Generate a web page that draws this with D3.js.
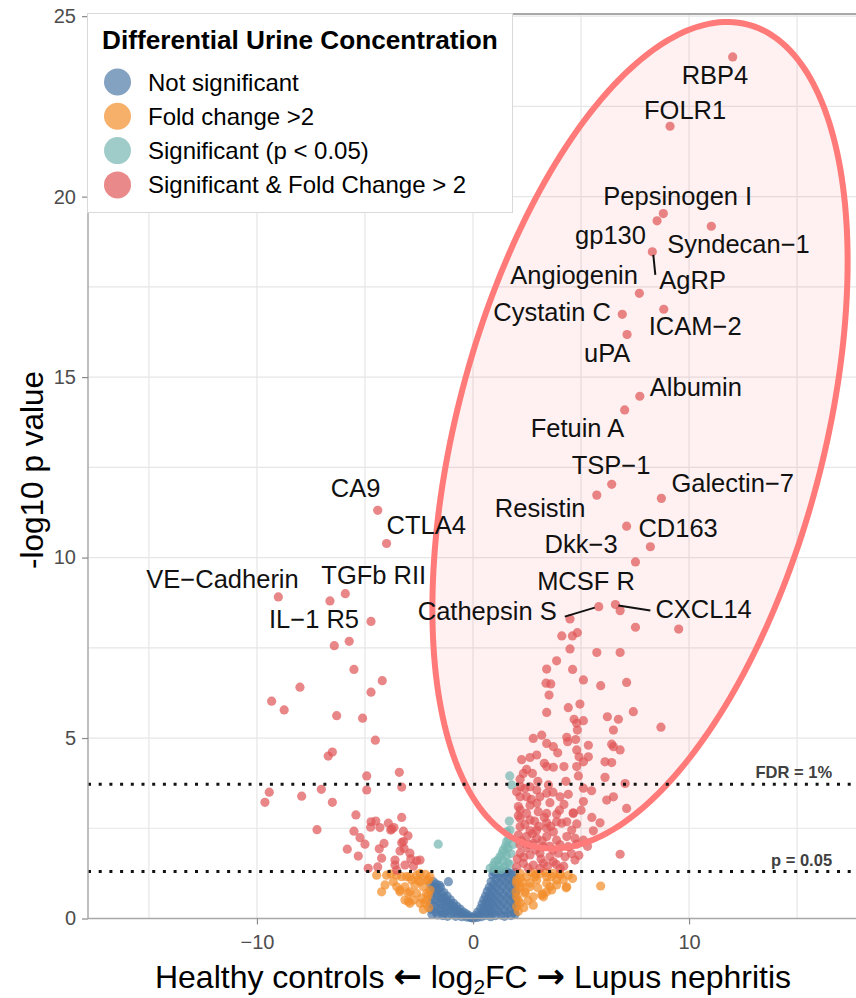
<!DOCTYPE html>
<html>
<head>
<meta charset="utf-8">
<script src="https://cdn.jsdelivr.net/npm/d3@7"></script>
<style>
  body { margin: 0; background: #fff; }
  svg { display: block; font-family: "Liberation Sans", Arial, Helvetica, sans-serif; }
</style>
</head>
<body>
<svg id="chart" width="856" height="998"></svg>
<script>
// ---- data: [log2FC, -log10 p] ----
const notSignificant = [
  [-1.95,0.95],[-1.84,1.02],[-1.14,1.02],[-1.90,0.78],[-1.92,0.60],[-1.95,0.42],[-1.93,0.25],[-1.90,0.12],
  [-1.80,0.88],[-1.78,0.70],[-1.75,0.52],[-1.80,0.35],[-1.72,0.18],[-1.65,0.80],[-1.62,0.62],[-1.60,0.44],
  [-1.58,0.28],[-1.63,0.10],[-1.50,0.86],[-1.48,0.70],[-1.46,0.55],[-1.44,0.38],[-1.48,0.20],[-1.40,0.08],
  [-1.35,0.72],[-1.33,0.58],[-1.30,0.45],[-1.28,0.30],[-1.32,0.15],[-1.20,0.62],[-1.18,0.48],[-1.15,0.35],
  [-1.12,0.22],[-1.18,0.06],[-1.05,0.52],[-1.02,0.40],[-1.00,0.26],[-0.98,0.12],[-0.90,0.42],[-0.88,0.30],
  [-0.85,0.18],[-0.80,0.06],[-0.75,0.34],[-0.72,0.22],[-0.68,0.12],[-0.60,0.26],[-0.56,0.15],[-0.52,0.05],
  [-0.45,0.18],[-0.40,0.09],[-0.32,0.13],[-0.28,0.04],[-0.20,0.08],[-0.12,0.03],[-0.05,0.02],[-1.70,0.95],
  [-1.55,0.92],
  [0.05,0.02],[0.12,0.08],[0.20,0.03],[0.22,0.18],[0.30,0.10],[0.35,0.28],[0.38,0.05],[0.42,0.40],
  [0.45,0.18],[0.50,0.52],[0.52,0.30],[0.55,0.08],[0.58,0.62],[0.60,0.42],[0.62,0.20],[0.66,0.75],
  [0.68,0.54],[0.70,0.33],[0.72,0.12],[0.75,0.86],[0.77,0.65],[0.79,0.45],[0.80,0.24],[0.82,0.05],
  [0.84,1.02],[0.86,0.80],[0.88,0.58],[0.90,0.38],[0.92,0.16],[0.92,1.20],[0.96,0.95],[0.98,0.72],
  [1.00,0.50],[1.02,0.28],[1.04,0.08],[1.05,1.25],[1.08,1.08],[1.10,0.86],[1.12,0.64],[1.14,0.42],
  [1.16,0.20],[1.20,1.18],[1.22,0.98],[1.24,0.76],[1.26,0.55],[1.28,0.33],[1.30,0.10],[1.35,1.28],
  [1.36,1.08],[1.38,0.88],[1.40,0.66],[1.42,0.45],[1.44,0.24],[1.46,0.06],[1.50,1.20],[1.52,1.00],
  [1.54,0.78],[1.56,0.57],[1.58,0.36],[1.60,0.15],[1.64,1.27],[1.66,1.10],[1.68,0.90],[1.70,0.68],
  [1.72,0.48],[1.74,0.26],[1.76,0.08],[1.80,1.22],[1.82,1.02],[1.84,0.82],[1.86,0.60],[1.88,0.40],
  [1.90,0.18],[1.93,1.28],[1.95,1.10],[1.96,0.92],[1.97,0.72],[1.98,0.52],[1.97,0.32],[1.95,0.12],
  [1.55,1.30],[1.25,1.30],[0.95,1.30]
];

const foldChangeOnly = [
  [-4.46,1.20],[-4.00,1.20],[-3.53,1.20],[-4.23,0.74],[-4.07,0.93],[-3.38,0.74],[-2.99,0.47],[-2.76,0.51],
  [-3.15,0.88],[-2.84,1.07],[-2.53,1.07],[-2.30,0.88],[-2.14,0.70],[-2.22,0.42],[-2.61,0.70],[-3.07,1.16],
  [-2.45,1.25],[-2.92,0.74],[-2.07,1.07],[-2.92,1.16],[-2.61,1.20],[-2.45,1.02],[-2.14,1.07],[-1.99,1.16],
  [-2.38,0.56],[-2.14,0.51],[-2.69,0.93],[-1.99,0.79],[-2.07,0.65],[-2.45,0.42],[-2.92,0.42],[-3.15,0.51],
  [-3.38,0.79],[-3.69,1.02],[-3.53,0.88],[-2.99,0.70],[-3.30,1.16],[-2.05,0.30],[-2.30,0.25],[-2.20,1.22],
  [-3.80,1.24],
  [4.61,1.11],[5.91,0.90],[4.34,0.88],[2.79,0.37],[3.23,0.68],[2.18,0.42],[3.18,0.65],[4.31,0.85],
  [3.87,1.07],[3.56,0.88],[3.41,1.16],[2.95,1.07],[2.49,1.16],[2.25,0.88],[2.10,0.51],[2.41,0.70],
  [2.64,0.88],[2.02,1.07],[2.18,1.25],[3.10,1.25],[3.72,1.25],[4.03,1.25],[4.41,1.20],[2.79,0.60],
  [3.41,0.74],[2.02,0.33],[1.99,0.74],[3.26,0.60],[3.64,0.79],[3.87,0.93],[4.03,1.20],[2.64,0.98],
  [2.41,0.74],[2.02,0.60],[2.02,0.98],[2.87,1.16],[2.18,1.11],[3.41,0.98],[4.18,1.07],[3.64,1.16],
  [2.30,1.00],[2.55,0.50],[2.10,0.20],[2.70,1.28],[3.00,0.85],[2.35,0.30],[2.90,1.22],[3.35,1.28],
  [2.15,0.85]
];

const significantOnly = [
  [-1.61,2.06],[1.70,3.95],[1.79,3.70],[1.68,2.70],[1.71,2.45],[1.56,2.40],[1.56,2.13],[1.40,1.90],
  [1.25,1.71],[1.02,1.57],[0.79,1.39],[1.65,2.20],[1.50,2.00],[1.62,1.95],[1.35,1.80],[1.55,1.75],
  [1.15,1.62],[1.40,1.60],[0.95,1.48],[1.20,1.45],[1.45,1.42],[1.70,1.50],[1.05,1.36],[1.30,1.36],
  [1.75,1.80],[1.60,1.55],[1.85,2.05]
];

const significantAndFold = [
  // lower in lupus nephritis
  [-6.42,7.56],[-5.73,7.68],[-5.51,6.90],[-4.20,6.59],[-4.72,6.27],[-8.01,6.41],[-9.32,6.02],[-8.74,5.78],
  [-6.31,5.62],[-5.11,5.55],[-4.52,4.94],[-6.70,4.50],[-6.51,4.61],[-4.92,3.95],[-3.41,4.05],[-3.30,3.64],
  [-4.92,3.56],[-9.43,3.50],[-9.63,3.22],[-7.93,3.39],[-7.02,3.58],[-6.51,3.22],[-5.42,2.87],[-7.22,2.46],
  [-5.51,2.42],[-5.23,2.24],[-5.00,2.06],[-5.82,1.92],[-5.31,1.73],[-4.72,2.68],[-4.74,2.53],[-4.50,2.70],
  [-4.31,2.52],[-3.92,2.64],[-3.81,2.45],[-3.66,2.52],[-3.30,2.80],[-3.22,2.42],[-3.01,2.29],[-4.12,2.08],
  [-4.34,1.93],[-3.30,2.10],[-3.38,1.87],[-3.19,1.94],[-2.92,1.81],[-4.23,1.67],[-3.61,1.62],[-3.61,1.48],
  [-2.61,1.60],[-3.15,1.48],[-2.76,1.45],[-4.85,1.39],[-4.41,1.43],[-3.53,1.34],[-2.88,1.65],[-3.76,2.48],
  [-3.22,2.13],[-2.45,1.62],[-6.62,8.80],
  // higher in lupus nephritis
  [4.49,8.30],[4.11,7.83],[4.60,7.83],[4.83,7.92],[4.49,7.47],[3.87,7.14],[4.61,6.90],[3.41,6.91],
  [3.38,6.52],[3.60,6.50],[3.52,6.19],[5.11,6.61],[5.91,6.45],[5.73,7.37],[6.81,7.37],[7.11,6.54],
  [7.52,8.07],[9.52,8.02],[7.52,9.88],
  [4.41,5.84],[4.95,5.94],[3.41,5.71],[6.22,5.59],[6.73,5.52],[7.42,5.73],[4.68,5.52],[5.11,5.48],
  [4.80,5.41],[4.83,5.22],[6.50,5.22],[8.70,5.30],[2.79,4.99],[3.18,5.08],[4.34,5.02],[4.75,4.96],
  [4.38,4.90],[3.41,4.85],[3.72,4.76],[5.34,4.80],[6.42,4.83],[6.50,4.76],[6.81,4.67],[2.64,4.46],
  [2.95,4.53],[3.92,4.59],[4.80,4.67],[4.91,4.48],[5.34,4.48],[3.41,4.21],[3.72,4.19],[4.21,4.21],
  [4.80,4.21],[5.11,4.34],[6.11,4.34],[6.42,4.32],[2.48,4.13],[2.33,4.02],[2.75,4.02],[4.88,3.95],
  [6.11,3.91],[7.04,3.74],[2.18,3.86],[2.21,3.65],[2.64,3.65],[3.49,3.70],[2.95,3.56],[3.41,3.47],
  [4.03,3.37],[4.41,3.44],[5.11,3.61],[5.49,3.54],[6.50,3.37],[2.02,3.51],[2.18,3.37],[2.48,3.37],
  [3.10,3.37],[2.64,3.14],[2.95,3.19],[3.56,3.21],[4.21,3.16],[5.11,3.24],[6.19,3.28],[4.64,2.93],
  [7.11,3.05],[2.18,3.01],[2.48,2.91],[3.02,2.96],[3.41,2.91],[3.87,2.89],[4.64,2.91],[2.18,2.78],
  [2.64,2.73],[3.41,2.65],[3.87,2.68],[4.10,2.64],[4.34,2.68],[4.80,2.62],[5.88,2.65],[5.57,2.43],
  [2.18,2.54],[2.64,2.43],[2.95,2.45],[3.41,2.50],[3.72,2.40],[4.57,2.45],[2.10,2.31],[2.48,2.27],
  [2.95,2.22],[3.41,2.27],[3.87,2.17],[4.34,2.27],[4.72,2.22],[5.11,2.17],[2.18,2.04],[2.79,2.08],
  [3.26,1.99],[4.03,2.04],[4.41,1.99],[4.80,2.06],[2.18,1.81],[2.64,1.76],[3.10,1.81],[3.56,1.71],
  [3.95,1.81],[4.26,1.71],[4.72,1.62],[6.81,1.78],[2.33,1.53],[2.79,1.48],[3.26,1.53],[3.72,1.57],
  [2.02,1.43],[3.10,1.39],[4.03,1.39],
  [2.05,1.65],[2.35,1.70],[2.50,1.95],[2.25,2.15],[2.75,2.35],[2.40,2.60],[2.85,2.70],[3.05,2.55],
  [3.20,2.15],[3.55,2.00],[3.60,2.55],[3.15,1.65],[2.55,1.40],[3.45,1.45],[3.85,1.50],[4.20,1.45],
  [3.70,1.90],[2.90,1.90],[2.60,2.05],[4.55,1.80],[3.30,2.80],[2.70,3.30],[2.40,3.60],[3.00,3.80],
  [3.30,4.30],[2.25,4.40],[2.10,3.10],[4.00,3.00],[3.70,3.50],[4.30,3.80],[5.00,3.00],[5.50,2.80],
  [5.30,2.00],[4.90,1.75],[2.10,2.85]
];

// named proteins (also significant & fold change > 2)
const labelNames = ["RBP4","FOLR1","Pepsinogen I","gp130","Syndecan\u22121","AgRP","Angiogenin","Cystatin C",
  "ICAM\u22122","uPA","Albumin","Fetuin A","TSP\u22121","Resistin","Galectin\u22127","CD163","Dkk\u22123",
  "MCSF R","Cathepsin S","CXCL14","CA9","CTLA4","VE\u2212Cadherin","TGFb RII","IL\u22121 R5"];
const labelFC = [12.02,9.12,8.81,8.52,11.03,8.30,7.70,6.91,8.83,7.13,7.72,7.02,6.42,5.73,8.72,8.21,7.11,
  6.81,5.82,6.59,-4.41,-4.00,-9.01,-5.91,-4.72];
const labelP = [23.87,21.95,19.53,19.33,19.18,18.47,17.32,16.74,16.88,16.18,14.47,14.09,12.03,11.73,11.64,
  10.30,10.87,8.53,8.64,8.70,11.31,10.39,8.91,9.00,8.23];

const thresholdNames = ["FDR = 1%", "p = 0.05"];
const thresholdValues = [3.72, 1.301];

const legendLabels = ["Not significant","Fold change >2","Significant (p < 0.05)","Significant & Fold Change > 2"];
const xTicks = [-10, 0, 10];
const yTicks = [0, 5, 10, 15, 20, 25];

// ---- layout ----
const W = 856, H = 998;
const plot = { left: 88, right: 858, top: 14, bottom: 918.5 };
const colors = ["#4E79A7", "#F28E2B", "#76B7B2", "#E15759"];
const pointAlpha = 0.72;
const R = 4.6;

// text placement around each named point: [dx, dy] of the label's left baseline, in px
const labelOffsets = {
  "RBP4": [-51, 27], "FOLR1": [-26, -7], "Pepsinogen I": [-60, -9], "gp130": [-82, 23],
  "Syndecan\u22121": [-44, 27], "AgRP": [7, 37], "Angiogenin": [-129, -9], "Cystatin C": [-129, 7],
  "ICAM\u22122": [-15, 26], "uPA": [-43, 27], "Albumin": [10, 0], "Fetuin A": [-94, 27],
  "TSP\u22121": [-40, -10], "Resistin": [-102, 22], "Galectin\u22127": [10, -6], "CD163": [-12, -10],
  "Dkk\u22123": [-82, 27], "MCSF R": [-83, -21], "Cathepsin S": [-181, 13], "CXCL14": [40, 14],
  "CA9": [-47, -13], "CTLA4": [0, -9], "VE\u2212Cadherin": [-132, -9], "TGFb RII": [-24, -10],
  "IL\u22121 R5": [-102, 7]
};
// leader segments: [x1, y1, x2, y2] relative to the point, in px
const leaderOffsets = {
  "AgRP": [1, 3, 3, 23],
  "Cathepsin S": [-4, 1, -34, 10],
  "CXCL14": [3, 1, 35, 6]
};

// highlight ellipse in data units: centre and two conjugate semi-axis vectors
const ellipseCentre = [7.73, 13.39];
const ellipseU = [4.995, 11.377];
const ellipseV = [8.21, -1.29];

const svg = d3.select("#chart");
const x = d3.scaleLinear().domain([-17.82, 17.82]).range([plot.left, plot.right]);
const y = d3.scaleLinear().domain([0, 25.06]).range([plot.bottom, plot.top]);

// grid
const grid = svg.append("g").attr("stroke", "#e6e6e6").attr("stroke-width", 1.2);
[-15, -10, -5, 0, 5, 10, 15].forEach(v => {
  grid.append("line").attr("x1", x(v)).attr("x2", x(v)).attr("y1", plot.top).attr("y2", plot.bottom);
});
d3.range(0, 25.01, 2.5).forEach(v => {
  grid.append("line").attr("x1", plot.left).attr("x2", W).attr("y1", y(v)).attr("y2", y(v));
});

// ellipse path
const ts = d3.range(0, 2 * Math.PI + 0.001, Math.PI / 120);
const ellipsePts = ts.map(t => [
  x(ellipseCentre[0] + ellipseU[0] * Math.cos(t) + ellipseV[0] * Math.sin(t)),
  y(ellipseCentre[1] + ellipseU[1] * Math.cos(t) + ellipseV[1] * Math.sin(t))
]);
const ellipsePath = d3.line()(ellipsePts) + "Z";
svg.append("path").attr("d", ellipsePath).attr("fill", "#ff3b3b").attr("fill-opacity", 0.07).attr("stroke", "none");

// points
const groups = [notSignificant, foldChangeOnly, significantOnly,
  significantAndFold.concat(labelFC.map((v, i) => [v, labelP[i]]))];
groups.forEach((pts, gi) => {
  svg.append("g").selectAll("circle").data(pts).join("circle")
    .attr("cx", d => x(d[0])).attr("cy", d => y(d[1])).attr("r", R)
    .attr("fill", colors[gi]).attr("fill-opacity", pointAlpha);
});

// ellipse outline
svg.append("path").attr("d", ellipsePath).attr("fill", "none")
  .attr("stroke", "#FF7A78").attr("stroke-width", 6);

// threshold lines
thresholdValues.forEach((v, i) => {
  svg.append("line").attr("x1", plot.left).attr("x2", W).attr("y1", y(v)).attr("y2", y(v))
    .attr("stroke", "#111").attr("stroke-width", 3).attr("stroke-dasharray", "3 7.7");
  svg.append("text").attr("x", x(16.62)).attr("y", y(v) - 6).attr("text-anchor", "end")
    .attr("font-size", 16.5).attr("font-weight", "bold").attr("fill", "#404040")
    .text(thresholdNames[i]);
});

// leader segments and labels
labelNames.forEach((name, i) => {
  const px = x(labelFC[i]), py = y(labelP[i]);
  const seg = leaderOffsets[name];
  if (seg) {
    svg.append("line").attr("x1", px + seg[0]).attr("y1", py + seg[1])
      .attr("x2", px + seg[2]).attr("y2", py + seg[3]).attr("stroke", "#111").attr("stroke-width", 2);
  }
  const off = labelOffsets[name];
  svg.append("text").attr("x", px + off[0]).attr("y", py + off[1])
    .attr("font-size", 25.5).attr("fill", "#111").text(name);
});

// axis lines
const axisColor = "#a8a8a8";
svg.append("line").attr("x1", plot.left).attr("x2", plot.left).attr("y1", plot.top).attr("y2", plot.bottom)
  .attr("stroke", axisColor).attr("stroke-width", 1.5);
svg.append("line").attr("x1", plot.left).attr("x2", W).attr("y1", plot.bottom).attr("y2", plot.bottom)
  .attr("stroke", axisColor).attr("stroke-width", 1.5);
svg.append("line").attr("x1", plot.left).attr("x2", W).attr("y1", plot.top).attr("y2", plot.top)
  .attr("stroke", axisColor).attr("stroke-width", 2);

// axes
const fmt = d => d < 0 ? "\u2212" + Math.abs(d) : String(d);
const yAxis = svg.append("g").attr("transform", `translate(${plot.left},0)`)
  .call(d3.axisLeft(y).tickValues(yTicks).tickSize(6).tickPadding(6).tickFormat(fmt));
const xAxis = svg.append("g").attr("transform", `translate(0,${plot.bottom})`)
  .call(d3.axisBottom(x).tickValues(xTicks).tickSize(6).tickPadding(10).tickFormat(fmt));
[yAxis, xAxis].forEach(a => {
  a.select(".domain").remove();
  a.selectAll(".tick line").attr("stroke", "#8a8a8a").attr("stroke-width", 1.2);
  a.selectAll(".tick text").attr("fill", "#4d4d4d").attr("font-size", 20)
    .attr("font-family", "\"Liberation Sans\", Arial, sans-serif");
});

// axis titles
svg.append("text").attr("transform", "translate(43,470) rotate(-90)").attr("text-anchor", "middle")
  .attr("font-size", 31.5).attr("fill", "#000").text("-log10 p value");
const xt = svg.append("text").attr("x", x(0)).attr("y", 988).attr("text-anchor", "middle")
  .attr("font-size", 32).attr("fill", "#000");
const arrowStyle = t => t.attr("font-family", "\"DejaVu Sans\", sans-serif").attr("font-weight", "bold").attr("font-size", 34);
xt.append("tspan").text("Healthy controls ");
xt.append("tspan").call(arrowStyle).text("\u2190");
xt.append("tspan").text(" log");
xt.append("tspan").attr("font-size", 21).attr("dy", 6).text("2");
xt.append("tspan").attr("dy", -6).text("FC ");
xt.append("tspan").call(arrowStyle).text("\u2192");
xt.append("tspan").text(" Lupus nephritis");

// legend
const lg = svg.append("g");
lg.append("rect").attr("x", 87.5).attr("y", 13.5).attr("width", 425).attr("height", 199)
  .attr("fill", "#fff").attr("stroke", "#d9d9d9").attr("stroke-width", 1);
lg.append("text").attr("x", 102).attr("y", 49).attr("font-size", 26.2).attr("font-weight", "bold")
  .attr("fill", "#000").text("Differential Urine Concentration");
legendLabels.forEach((lab, i) => {
  const cy = 82 + i * 34.3;
  lg.append("circle").attr("cx", 117.5).attr("cy", cy).attr("r", 13.5)
    .attr("fill", colors[i]).attr("fill-opacity", 0.7);
  lg.append("text").attr("x", 148).attr("y", cy + 8.5).attr("font-size", 24).attr("fill", "#000").text(lab);
});
</script>
</body>
</html>
